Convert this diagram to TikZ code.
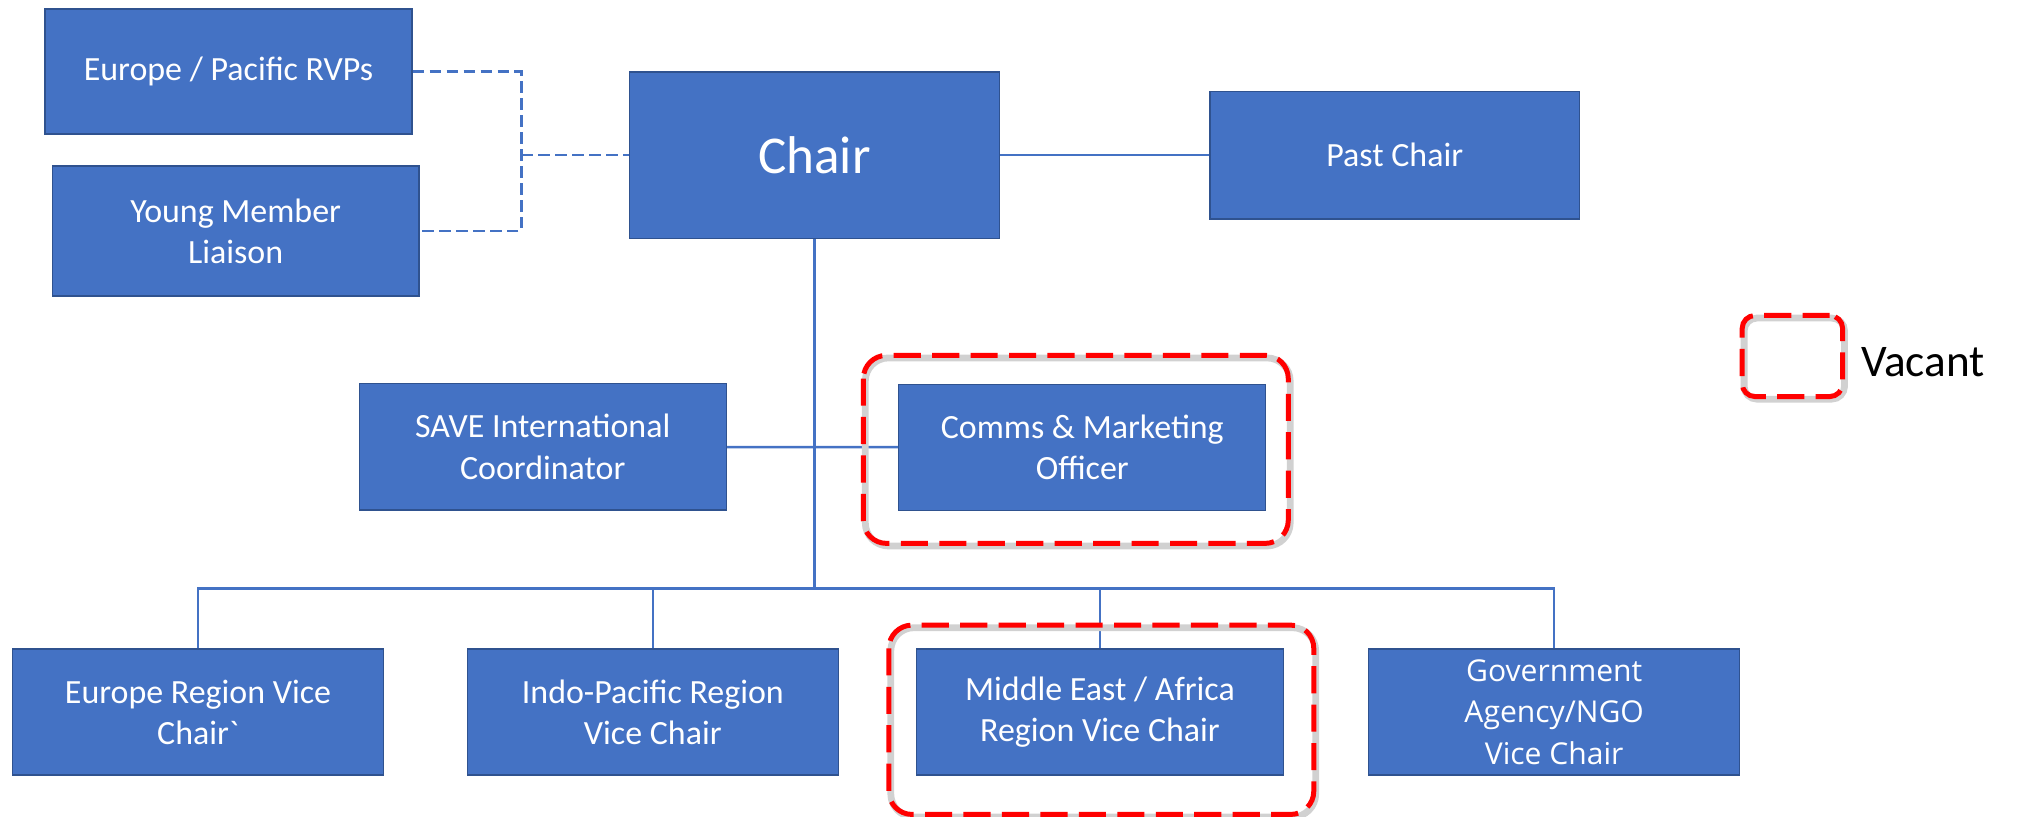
\documentclass[tikz,border=0pt]{standalone}
\usepackage{fontspec}
\setmainfont{Carlito}
\newfontfamily\widefont{Open Sans}
\usetikzlibrary{positioning}
\definecolor{boxblue}{HTML}{4472C4}
\definecolor{boxedge}{HTML}{2F528F}
\definecolor{vacred}{HTML}{FF0000}

\begin{document}
\begin{tikzpicture}[x=0.02cm,y=-0.02cm]
\tikzstyle{post}=[%
minimum width=5.7cm,
minimum height=1.96cm,
draw=boxedge, fill=boxblue, text=white,
align=center, line width=0.6pt,
font=\fontsize{15}{18.2}\selectfont
]
\tikzstyle{link}=[draw=boxblue, line width=1.1pt]
\tikzstyle{dashlink}=[draw=boxblue, line width=1.1pt, dash pattern=on 5pt off 2.5pt]
\tikzstyle{vacant}=[draw=vacred, line width=2.2pt, dash pattern=on 12pt off 5pt, rounded corners=0.36cm]
\tikzstyle{vacshade}=[draw=black!18, line width=3pt, rounded corners=0.36cm]
\useasboundingbox (0,0) rectangle (1568,634);

   \node[post, minimum height=1.94cm] (ep) at (177.5,55.5) {Europe / Pacific RVPs};
   \node[post, minimum height=2.02cm] (ym) at (183,179.5) {Young Member\\Liaison};
   \node[post, minimum width=5.75cm, minimum height=2.58cm, font=\fontsize{23.5}{28}\selectfont] (chair) at (632.5,120.5) {Chair};
   \node[post, minimum width=5.74cm, minimum height=1.98cm, right=3.25cm of chair] (past) {Past Chair};
   \node[post] (save) at (421.5,347) {SAVE International\\Coordinator};
   \node[post] (comms) at (840.5,347.5) {Comms \& Marketing\\Officer};
   \node[post, minimum width=5.76cm] (eu) at (153.8,553) {Europe Region Vice\\Chair\textasciigrave};
   \node[post, minimum width=5.76cm] (indo) at (507,553) {Indo-Pacific Region\\Vice Chair};
   \node[post] (me) at (854.3,553) {Middle East / Africa\\Region Vice Chair};
   \node[post, minimum width=5.76cm, font=\widefont\fontsize{13.3}{18.4}\selectfont] (gov) at (1207,553) {Government\\Agency/NGO\\Vice Chair};

   \coordinate (split) at (405,120.5);
   \coordinate (bus) at (632.5,457);
   \draw[dashlink] (ep.east) -| (split) |- (ym.east);
   \draw[dashlink] (split) -- (chair.west);
   \draw[link] (chair) -- (past);
   \draw[link] (chair.south) -- (bus);
   \draw[link] (save) -- (comms);
   \foreach \n in {eu,indo,me,gov}
      \draw[link] (bus) -| (\n.north);

   \draw[vacshade] ([shift={(-25.5,-20)}]comms.north west) rectangle ([shift={(18.5,27)}]comms.south east);
   \draw[vacant] ([shift={(-27,-22)}]comms.north west) rectangle ([shift={(17,25)}]comms.south east);
   \draw[vacshade] ([shift={(-19.5,-16)}]me.north west) rectangle ([shift={(24.5,32)}]me.south east);
   \draw[vacant] ([shift={(-21,-18)}]me.north west) rectangle ([shift={(23,30)}]me.south east);

   \node[vacshade, rounded corners=0.2cm, minimum width=1.56cm, minimum height=1.26cm] (keyshade) at (1393.5,278.5) {};
   \node[vacant, rounded corners=0.2cm, minimum width=1.56cm, minimum height=1.26cm] (key) at (1392,276.5) {};
   \node[anchor=base west, inner sep=0pt, font=\fontsize{20}{24}\selectfont] (vac) at (1445,292.6) {Vacant};
\end{tikzpicture}
\end{document}
